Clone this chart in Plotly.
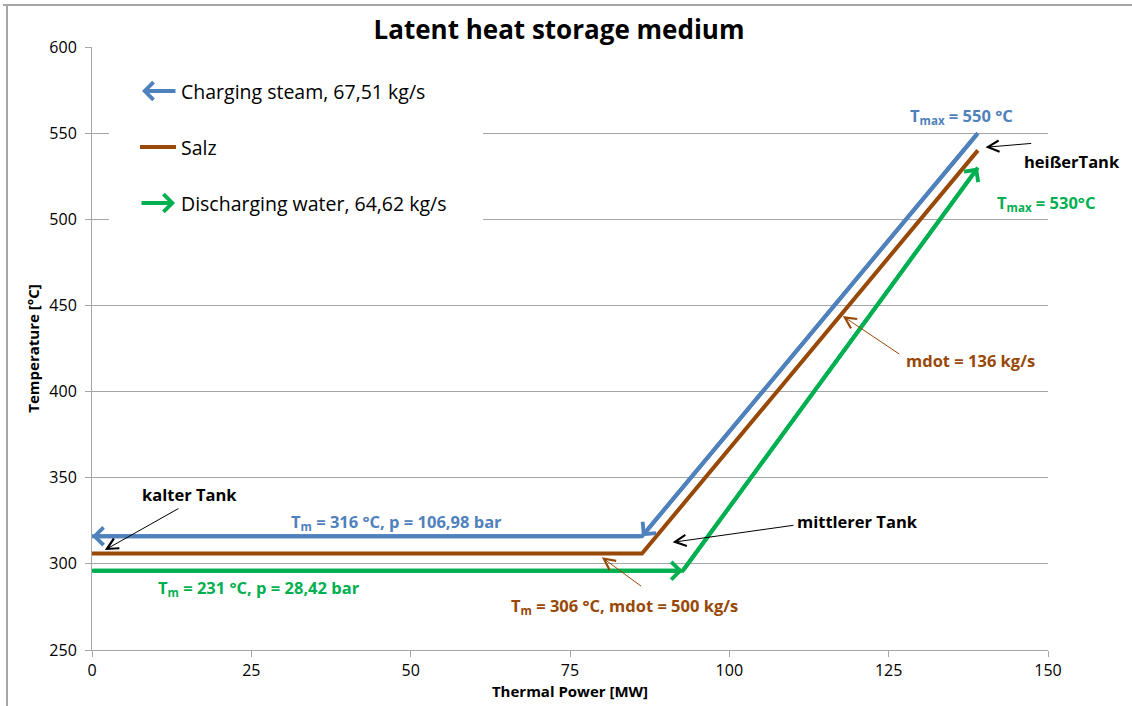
import plotly.graph_objects as go

# ---------------- data ----------------
steam_x = [139.0, 86.3, 0.0]        # charging steam (flows right -> left)
steam_y = [550, 316, 316]
salt_x = [0.0, 86.3, 139.0]         # Salz
salt_y = [306, 306, 540]
water_x = [0.0, 92.7, 139.0]        # discharging water
water_y = [296, 296, 530]

x_ticks = [0, 25, 50, 75, 100, 125, 150]
y_ticks = [250, 300, 350, 400, 450, 500, 550, 600]

legend_names = ["Charging steam, 67,51 kg/s", "Salz", "Discharging water, 64,62 kg/s"]

BLUE = "#4F81BD"
BROWN = "#984807"
GREEN = "#00B050"
GRID = "#A6A6A6"
FONT = "Open Sans"

# plot-area geometry (pixels) used for paper coordinate helpers
L, R, T, B = 92, 1048, 47, 650
W, H = 1132, 706


def PX(px):
    return (px - L) / (R - L)


def PY(py):
    return (B - py) / (B - T)


fig = go.Figure()
fig.add_trace(go.Scatter(x=steam_x, y=steam_y, mode="lines", name=legend_names[0],
                         line=dict(color=BLUE, width=4), showlegend=False))
fig.add_trace(go.Scatter(x=salt_x, y=salt_y, mode="lines", name=legend_names[1],
                         line=dict(color=BROWN, width=4), showlegend=False))
fig.add_trace(go.Scatter(x=water_x, y=water_y, mode="lines", name=legend_names[2],
                         line=dict(color=GREEN, width=4), showlegend=False))

ann = []


def head(color, x0, y0, x1, y1):
    # arrow head at (x1, y1) pointing from (x0, y0)
    ann.append(dict(x=x1, y=y1, ax=x0, ay=y0, xref="x", yref="y", axref="x", ayref="y",
                    text="", showarrow=True, arrowhead=4, arrowsize=0.85,
                    arrowwidth=4, arrowcolor=color, standoff=0))


# arrow heads on the flow lines
head(BLUE, steam_x[1], steam_y[1], steam_x[2], steam_y[2])
head(BLUE, steam_x[0], steam_y[0], steam_x[1], steam_y[1])
head(GREEN, water_x[0], water_y[0], water_x[1], water_y[1])
head(GREEN, water_x[1], water_y[1], water_x[2], water_y[2])


def label(text, x, y, color, xref="x", yref="y", size=16.5):
    ann.append(dict(x=x, y=y, xref=xref, yref=yref, text=text, showarrow=False,
                    xanchor="center", yanchor="middle",
                    font=dict(family=FONT, size=size, color=color, weight="bold")))


def pointer(color, tx, ty, hx, hy):
    ann.append(dict(x=hx, y=hy, ax=tx, ay=ty, xref="x", yref="y", axref="x", ayref="y",
                    text="", showarrow=True, arrowhead=5, arrowsize=2.2,
                    arrowwidth=1, arrowcolor=color, standoff=0))


# text labels
label("T<sub>max</sub> = 550 °C", PX(961), PY(116), BLUE, "paper", "paper")
label("heißerTank", PX(1072), PY(161), "black", "paper", "paper")
label("T<sub>max</sub> = 530°C", PX(1046), PY(203), GREEN, "paper", "paper")
label("mdot = 136 kg/s", PX(970), PY(360), BROWN, "paper", "paper")
label("mittlerer Tank", PX(857), PY(521), "black", "paper", "paper")
label("T<sub>m</sub> = 306 °C, mdot = 500 kg/s", PX(624), PY(606), BROWN, "paper", "paper")
label("T<sub>m</sub> = 231 °C, p = 28,42 bar", PX(259), PY(588), GREEN, "paper", "paper")
label("T<sub>m</sub> = 316 °C, p = 106,98 bar", PX(396), PY(522), BLUE, "paper", "paper")
label("kalter Tank", PX(189), PY(494), "black", "paper", "paper")

# pointer arrows
pointer("black", 147.6, 544.1, 140.2, 541.8)       # heißerTank
pointer(BROWN, 126.9, 421.2, 117.8, 443.8)          # mdot = 136
pointer("black", 110.3, 322.5, 91.1, 312.5)         # mittlerer Tank
pointer(BROWN, 86.4, 286.4, 80.0, 303.8)            # Tm = 306
pointer("black", 13.8, 332.6, 2.0, 308.0)           # kalter Tank

# custom legend
leg_y = [91, 147, 203]
ann.append(dict(x=PX(142), y=PY(leg_y[0]), xref="paper", yref="paper", ax=35, ay=0,
                text="", showarrow=True, arrowhead=4, arrowsize=0.85, arrowwidth=4,
                arrowcolor=BLUE, standoff=0))
ann.append(dict(x=PX(175), y=PY(leg_y[2]), xref="paper", yref="paper", ax=-35, ay=0,
                text="", showarrow=True, arrowhead=4, arrowsize=0.85, arrowwidth=4,
                arrowcolor=GREEN, standoff=0))
for name, ly in zip(legend_names, leg_y):
    ann.append(dict(x=PX(179), y=PY(ly), xref="paper", yref="paper", text=name,
                    showarrow=False, xanchor="left", yanchor="middle",
                    font=dict(family=FONT, size=19.5, color="black")))

shapes = [
    # legend background hiding grid lines
    dict(type="rect", xref="paper", yref="paper", x0=PX(109), x1=PX(483),
         y0=PY(232), y1=PY(62), fillcolor="white", line=dict(width=0), layer="above"),
    # salt legend line
    dict(type="line", xref="paper", yref="paper", x0=PX(140), x1=PX(176),
         y0=PY(leg_y[1]), y1=PY(leg_y[1]), line=dict(color=BROWN, width=4), layer="above"),
    # chart frame (partially visible)
    dict(type="line", xref="paper", yref="paper", x0=PX(3), x1=PX(1132),
         y0=PY(5), y1=PY(5), line=dict(color=GRID, width=2), layer="above"),
    dict(type="line", xref="paper", yref="paper", x0=PX(7), x1=PX(7),
         y0=PY(5), y1=PY(706), line=dict(color=GRID, width=2), layer="above"),
]

fig.update_layout(
    width=W, height=H,
    margin=dict(l=L, r=W - R, t=T, b=H - B),
    paper_bgcolor="white", plot_bgcolor="white",
    title=dict(text="<b>Latent heat storage medium</b>", x=559 / W, y=1 - 30 / H,
               xanchor="center", yanchor="middle", xref="container", yref="container",
               font=dict(family=FONT, size=26, color="black")),
    xaxis=dict(range=[0, 150], tickvals=x_ticks, showgrid=False, zeroline=False,
               showline=True, linecolor=GRID, linewidth=1, ticks="outside", ticklen=6,
               tickcolor=GRID, tickfont=dict(family=FONT, size=16, color="black"),
               automargin=False,
               title=dict(text="<b>Thermal Power [MW]</b>", standoff=4,
                          font=dict(family=FONT, size=15, color="black"))),
    yaxis=dict(range=[250, 600], tickvals=y_ticks, showgrid=True, gridcolor=GRID,
               gridwidth=1, zeroline=False, showline=True, linecolor=GRID, linewidth=1,
               ticks="outside", ticklen=6, tickcolor=GRID, ticklabelstandoff=5,
               tickfont=dict(family=FONT, size=16, color="black"), automargin=False,
               title=dict(text="<b>Temperature [°C]</b>", standoff=6,
                          font=dict(family=FONT, size=15, color="black"))),
    annotations=ann,
    shapes=shapes,
    showlegend=False,
)

fig.write_html("out.html")
